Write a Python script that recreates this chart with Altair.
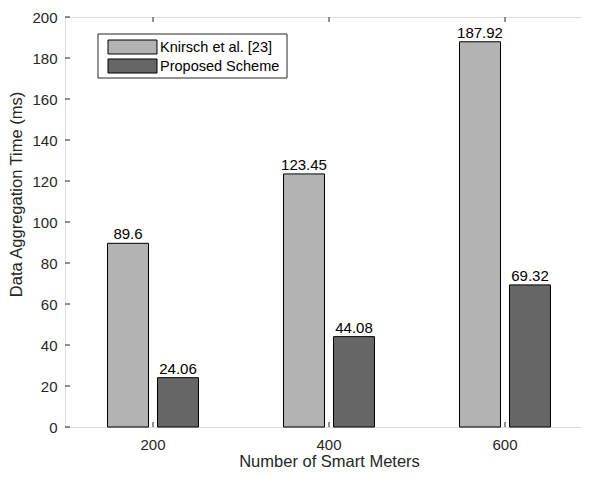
import altair as alt
import pandas as pd

categories = ["200", "400", "600"]
series = ["Knirsch et al. [23]", "Proposed Scheme"]
knirsch = [89.6, 123.45, 187.92]
proposed = [24.06, 44.08, 69.32]
knirsch_labels = ["89.6", "123.45", "187.92"]
proposed_labels = ["24.06", "44.08", "69.32"]
y_ticks = [0, 20, 40, 60, 80, 100, 120, 140, 160, 180, 200]
colors = ["#b3b3b3", "#666666"]

rows = []
for c, v, l in zip(categories, knirsch, knirsch_labels):
    rows.append({"cat": c, "series": series[0], "value": v, "label": l})
for c, v, l in zip(categories, proposed, proposed_labels):
    rows.append({"cat": c, "series": series[1], "value": v, "label": l})
df = pd.DataFrame(rows)
df_y = pd.DataFrame({"value": y_ticks})
df_x = pd.DataFrame({"cat": categories})
df_leg = pd.DataFrame({"series": series})

W, H = 528, 410
FONT = "Liberation Sans"
TXT = "#262626"

xscale = alt.Scale(domain=categories, paddingInner=0.432, paddingOuter=0.216)
yscale = alt.Scale(domain=[0, 200], nice=False)
oscale = alt.Scale(domain=series, paddingInner=0.18, paddingOuter=0.09)
cscale = alt.Scale(domain=series, range=colors)

x_enc = alt.X("cat:N", scale=xscale, sort=categories,
              axis=alt.Axis(title="Number of Smart Meters", labelAngle=0,
                            ticks=False, domain=False, labelPadding=10,
                            titleY=39, titleBaseline="alphabetic",
                            labelFontSize=15, titleFontSize=16.5,
                            labelFont=FONT, titleFont=FONT, labelColor=TXT,
                            titleColor=TXT, titleFontWeight="normal"))
y_enc = alt.Y("value:Q", scale=yscale,
              axis=alt.Axis(title="Data Aggregation Time (ms)", values=y_ticks,
                            ticks=False, domain=False, grid=False, labelPadding=8,
                            titleX=-41, titleY=177, titleBaseline="bottom",
                            labelFontSize=15, titleFontSize=16.5,
                            labelFont=FONT, titleFont=FONT, labelColor=TXT,
                            titleColor=TXT, titleFontWeight="normal"))
c_enc = alt.Color("series:N", scale=cscale, sort=series, legend=None)

bars = alt.Chart(df).mark_bar(stroke="black", strokeWidth=1, opacity=1).encode(
    x=x_enc,
    xOffset=alt.XOffset("series:N", scale=oscale, sort=series),
    y=y_enc,
    color=c_enc,
)

texts = alt.Chart(df).mark_text(baseline="alphabetic", dy=-4, font=FONT,
                                fontSize=15, color="black").encode(
    x=x_enc,
    xOffset=alt.XOffset("series:N", scale=oscale, sort=series),
    y=y_enc,
    text="label:N",
)

yl = alt.Chart(df_y).mark_rule(color=TXT).encode(
    y=y_enc, x=alt.value(0), x2=alt.value(5))
yr = alt.Chart(df_y).mark_rule(color=TXT).encode(
    y=y_enc, x=alt.value(W - 5), x2=alt.value(W))
xb = alt.Chart(df_x).mark_rule(color=TXT).encode(
    x=x_enc, y=alt.value(H - 5), y2=alt.value(H))
xt = alt.Chart(df_x).mark_rule(color=TXT).encode(
    x=x_enc, y=alt.value(0), y2=alt.value(5))

# legend (MATLAB style box with wide swatches)
leg_box = alt.Chart(df_leg.head(1)).mark_rect(fill="white", stroke=TXT, strokeWidth=1).encode(
    x=alt.value(33), x2=alt.value(222), y=alt.value(17), y2=alt.value(61))
leg_layers = [leg_box]
for i, s in enumerate(series):
    d = df_leg[df_leg["series"] == s]
    top = 23 + 19 * i
    leg_layers.append(
        alt.Chart(d).mark_rect(stroke="black", strokeWidth=1).encode(
            x=alt.value(43), x2=alt.value(92), y=alt.value(top), y2=alt.value(top + 14),
            color=c_enc))
    leg_layers.append(
        alt.Chart(d).mark_text(align="left", baseline="middle", font=FONT,
                               fontSize=14.5, color="black").encode(
            x=alt.value(95), y=alt.value(top + 7.5), text="series:N"))

chart = alt.layer(bars, texts, yl, yr, xb, xt, *leg_layers).properties(
    width=W, height=H,
    autosize=alt.AutoSizeParams(type="none"),
    padding={"left": 57, "top": 9, "right": -11, "bottom": 43},
).configure_view(stroke=TXT, strokeWidth=1).configure(background="white")

chart.save("out.html", embed_options={"renderer": "svg", "actions": False})
